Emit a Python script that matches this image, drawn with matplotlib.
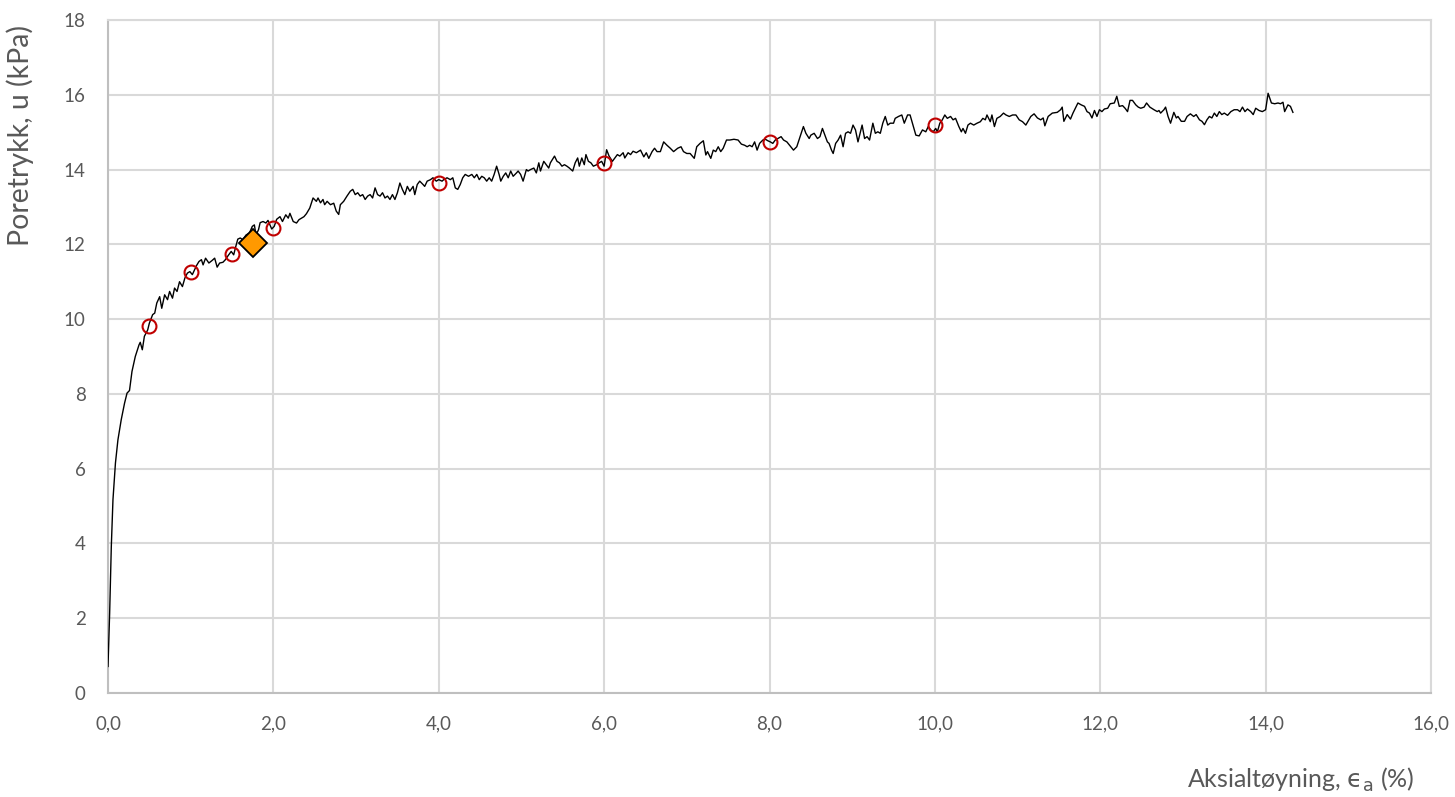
import numpy as np
import matplotlib.pyplot as plt
from matplotlib.ticker import FuncFormatter

# Måledata: aksialtøyning (%) og poretrykk (kPa)
eps = [0.0, 0.02, 0.04, 0.06, 0.09, 0.12, 0.16, 0.2, 0.23, 0.26, 0.29, 0.33, 0.375, 0.39, 0.415,
       0.44, 0.48, 0.5, 0.54, 0.565, 0.59, 0.625, 0.65, 0.685, 0.72, 0.745, 0.78, 0.805, 0.835,
       0.865, 0.9, 0.93, 0.96, 0.99, 1.02, 1.07, 1.1, 1.13, 1.15, 1.18, 1.22, 1.26, 1.29, 1.32,
       1.35, 1.39, 1.42, 1.45, 1.49, 1.52, 1.545, 1.57, 1.6, 1.63, 1.67, 1.71, 1.745, 1.77, 1.79,
       1.82, 1.84, 1.875, 1.91, 1.935, 1.98, 2.01, 2.04, 2.08, 2.11, 2.15, 2.18, 2.2, 2.24, 2.28,
       2.31, 2.34, 2.37,
       2.4, 2.44, 2.48, 2.52, 2.54, 2.57, 2.6, 2.62, 2.65, 2.69, 2.73, 2.76, 2.79, 2.81, 2.85,
       2.89, 2.93, 2.96, 2.99, 3.02, 3.05, 3.08, 3.11, 3.14, 3.17, 3.2, 3.23, 3.26, 3.29, 3.32,
       3.35, 3.38, 3.41, 3.44, 3.47, 3.5, 3.53, 3.56, 3.59, 3.62, 3.65, 3.69, 3.71, 3.74, 3.77,
       3.81, 3.83, 3.86, 3.9, 3.93, 3.97, 4.0, 4.04, 4.06, 4.1, 4.14, 4.17, 4.2, 4.23, 4.26,
       4.29, 4.32, 4.36, 4.4, 4.43, 4.46, 4.49, 4.52, 4.55, 4.58, 4.61, 4.64, 4.67, 4.7, 4.73,
       4.75, 4.78, 4.81, 4.84, 4.87, 4.9, 4.94, 4.96, 4.99, 5.02, 5.06, 5.08, 5.11, 5.15, 5.18,
       5.21, 5.23, 5.27, 5.3, 5.33, 5.35, 5.4, 5.43, 5.46, 5.49, 5.52, 5.55, 5.58, 5.62, 5.65,
       5.68, 5.7, 5.73, 5.76, 5.78, 5.81, 5.84, 5.87, 5.91, 5.94, 5.97, 6.0, 6.03, 6.06, 6.1,
       6.13, 6.16, 6.19, 6.23, 6.25, 6.29, 6.32, 6.35, 6.39,
       6.44, 6.48, 6.51, 6.54, 6.58, 6.61, 6.64, 6.68, 6.72, 6.76, 6.8, 6.84, 6.89, 6.93, 6.96,
       7.0, 7.04, 7.09, 7.12, 7.16, 7.2, 7.23, 7.25, 7.29, 7.32, 7.35, 7.38, 7.41, 7.44, 7.48,
       7.52, 7.57, 7.62, 7.66, 7.7, 7.73, 7.76, 7.79, 7.82, 7.85, 7.88, 7.92, 7.95, 7.98, 8.01,
       8.04, 8.07, 8.1, 8.14, 8.17, 8.21, 8.25, 8.29, 8.33, 8.37, 8.41, 8.44, 8.48, 8.5, 8.54,
       8.58, 8.61, 8.64, 8.67, 8.7, 8.72, 8.75, 8.77, 8.8, 8.83, 8.86, 8.89, 8.92, 8.95, 8.98,
       9.01, 9.04, 9.07, 9.09, 9.12, 9.15, 9.18, 9.21, 9.25, 9.28, 9.31, 9.34, 9.37, 9.4, 9.43,
       9.46, 9.5, 9.52, 9.56, 9.6, 9.63, 9.67, 9.7, 9.74, 9.77, 9.81, 9.85, 9.89, 9.92, 9.95,
       9.98, 10.01, 10.03, 10.06, 10.09, 10.12, 10.15, 10.19, 10.22, 10.25, 10.29, 10.32, 10.34,
       10.37, 10.4, 10.43, 10.47, 10.51, 10.55, 10.58, 10.61, 10.63, 10.67, 10.69, 10.72, 10.75,
       10.79, 10.83, 10.86, 10.9, 10.94, 10.98, 11.02, 11.06, 11.1,
       11.16, 11.2, 11.24, 11.28, 11.31, 11.33, 11.37, 11.42, 11.48, 11.52, 11.54, 11.56, 11.6,
       11.64, 11.67, 11.69, 11.73, 11.77, 11.81, 11.84, 11.87, 11.9, 11.93, 11.96, 11.99, 12.02,
       12.05, 12.09, 12.12, 12.17, 12.2, 12.23, 12.27, 12.3, 12.33, 12.36, 12.39, 12.43, 12.46,
       12.49, 12.53, 12.56, 12.6, 12.65, 12.69, 12.71, 12.73, 12.77, 12.79, 12.82, 12.85, 12.89,
       12.92, 12.94, 12.98, 13.02, 13.05, 13.09, 13.13, 13.16, 13.2, 13.23, 13.26, 13.29, 13.32,
       13.35, 13.38, 13.41, 13.44, 13.47, 13.5, 13.54, 13.58, 13.62, 13.66, 13.69, 13.72, 13.75,
       13.78, 13.82, 13.85, 13.88, 13.92, 13.96, 14.0, 14.03, 14.07, 14.11, 14.15, 14.18, 14.21,
       14.23, 14.27, 14.3, 14.33]

u = [0.71, 2.14, 3.92, 5.17, 6.15, 6.77, 7.31, 7.75, 8.02, 8.09, 8.6, 9.0, 9.31, 9.38, 9.18,
     9.54, 9.71, 9.89, 10.12, 10.16, 10.43, 10.6, 10.29, 10.65, 10.52, 10.74, 10.56, 10.83, 10.74,
     11.0, 10.87, 11.1, 11.23, 11.27, 11.19, 11.43, 11.54, 11.59, 11.45, 11.63, 11.5, 11.57, 11.63,
     11.39, 11.5, 11.52, 11.59, 11.69, 11.81, 11.72, 11.94, 12.14, 12.17, 12.12, 12.25, 12.3,
     12.48, 12.52, 12.25, 12.39, 12.58, 12.61, 12.57, 12.64, 12.41, 12.48, 12.67, 12.74, 12.61,
     12.79, 12.7, 12.83, 12.61, 12.57, 12.66, 12.7, 12.74,
     12.82, 12.97, 13.24, 13.15, 13.24, 13.11, 13.2, 13.06, 13.15, 13.06, 13.1, 12.89, 12.8, 13.06,
     13.15, 13.29, 13.42, 13.47, 13.33, 13.38, 13.29, 13.33, 13.2, 13.29, 13.33, 13.24, 13.51,
     13.33, 13.29, 13.38, 13.24, 13.29, 13.2, 13.33, 13.2, 13.38, 13.64, 13.47, 13.33, 13.55,
     13.42, 13.55, 13.33, 13.6, 13.69, 13.6, 13.55, 13.69, 13.73, 13.78, 13.69, 13.73, 13.69,
     13.73, 13.78, 13.73, 13.78, 13.51, 13.47, 13.6, 13.78, 13.87, 13.82, 13.87, 13.78, 13.87,
     13.73, 13.82, 13.78, 13.69, 13.78, 13.69, 13.87, 14.09, 13.87, 13.69, 13.82, 13.91, 13.78,
     13.96, 13.82, 13.91, 13.96, 13.87, 13.69, 14.0, 13.96, 14.0, 14.04, 13.91, 14.18, 13.96,
     14.22, 14.13, 14.04, 14.18, 14.36, 14.22, 14.18, 14.09, 14.13, 14.09, 14.04, 13.96, 14.18,
     14.31, 14.09, 14.31, 14.13, 14.4, 14.22, 14.18, 14.09, 14.13, 14.18, 14.22, 14.09, 14.53,
     14.36, 14.22, 14.31, 14.4, 14.36, 14.45, 14.31, 14.45, 14.4, 14.49, 14.45,
     14.52, 14.34, 14.45, 14.3, 14.48, 14.57, 14.48, 14.48, 14.74, 14.65, 14.57, 14.48, 14.57,
     14.61, 14.48, 14.43, 14.43, 14.3, 14.61, 14.7, 14.77, 14.39, 14.48, 14.3, 14.52, 14.48,
     14.61, 14.48, 14.57, 14.79, 14.79, 14.81, 14.79, 14.68, 14.65, 14.61, 14.65, 14.61, 14.74,
     14.52, 14.7, 14.79, 14.81, 14.77, 14.74, 14.7, 14.79, 14.83, 14.88, 14.79, 14.74, 14.63,
     14.52, 14.61, 14.88, 15.15, 14.97, 14.83, 14.92, 14.97, 14.83, 14.88, 15.1, 14.92, 14.74,
     14.7, 14.52, 14.43, 14.7, 14.79, 14.92, 14.61, 14.97, 15.01, 14.97, 15.19, 15.06, 14.74,
     14.92, 15.19, 14.83, 14.88, 14.79, 15.24, 14.97, 15.01, 14.97, 15.24, 15.42, 15.19, 15.24,
     15.24, 15.37, 15.42, 15.46, 15.24, 15.46, 15.46, 15.15, 14.92, 14.9, 15.06, 15.01, 15.15,
     15.06, 15.01, 15.1, 15.01, 15.24, 15.33, 15.46, 15.37, 15.42, 15.33, 15.37, 15.15, 15.01,
     15.1, 14.97, 15.19, 15.24, 15.19, 15.24, 15.28, 15.37, 15.33, 15.46, 15.28, 15.46, 15.15,
     15.37, 15.42, 15.51, 15.46, 15.42, 15.46, 15.46, 15.33, 15.28, 15.19,
     15.42, 15.49, 15.38, 15.33, 15.38, 15.17, 15.42, 15.51, 15.53, 15.6, 15.67, 15.29, 15.47,
     15.35, 15.51, 15.6, 15.78, 15.73, 15.69, 15.55, 15.51, 15.38, 15.58, 15.42, 15.6, 15.55,
     15.62, 15.64, 15.76, 15.78, 15.96, 15.69, 15.71, 15.64, 15.55, 15.85, 15.85, 15.73, 15.67,
     15.64, 15.67, 15.78, 15.67, 15.6, 15.55, 15.58, 15.51, 15.6, 15.67, 15.42, 15.24, 15.53,
     15.38, 15.42, 15.29, 15.29, 15.42, 15.49, 15.42, 15.47, 15.33, 15.29, 15.2, 15.33, 15.42,
     15.38, 15.51, 15.42, 15.55, 15.47, 15.51, 15.45, 15.55, 15.6, 15.6, 15.55, 15.67, 15.55,
     15.62, 15.55, 15.47, 15.64, 15.58, 15.55, 15.6, 16.04, 15.78, 15.76, 15.78, 15.76, 15.8,
     15.55, 15.73, 15.69, 15.53]

# Utvalgte punkter (røde sirkler) og markert punkt (oransje)
eps_sel = [0.5, 1.0, 1.5, 2.0, 4.0, 6.0, 8.0, 10.0]
u_sel = [9.81, 11.27, 11.75, 12.45, 13.65, 14.18, 14.75, 15.18]
eps_mark = [1.75]
u_mark = [12.03]

plt.rcParams['font.family'] = ['Lato', 'DejaVu Sans']
plt.rcParams['mathtext.fontset'] = 'custom'
plt.rcParams['mathtext.rm'] = 'DejaVu Sans'
plt.rcParams['mathtext.it'] = 'DejaVu Sans'

grid_col = '#d9d9d9'
txt_col = '#595959'

fig = plt.figure(figsize=(14.55, 7.97), dpi=100)
ax = fig.add_axes([108 / 1455, 1 - 693 / 797, (1431 - 108) / 1455, (693 - 20) / 797])

ax.plot(eps, u, color='black', linewidth=1.0, zorder=3)
ax.plot(eps_sel, u_sel, linestyle='none', marker='o', markersize=10,
        markerfacecolor='none', markeredgecolor='#c00000', markeredgewidth=1.5, zorder=4)
ax.plot(eps_mark, u_mark, linestyle='none', marker='D', markersize=14,
        markerfacecolor='#ff9900', markeredgecolor='black', markeredgewidth=1.3, zorder=5)

ax.set_xlim(0, 16)
ax.set_ylim(0, 18)
ax.set_xticks(np.arange(0, 17, 2))
ax.set_yticks(np.arange(0, 19, 2))
ax.xaxis.set_major_formatter(FuncFormatter(lambda v, p: f"{v:.1f}".replace('.', ',')))
ax.yaxis.set_major_formatter(FuncFormatter(lambda v, p: f"{v:.0f}"))
ax.tick_params(length=0, labelsize=13.5, colors=txt_col, pad=16)
ax.grid(True, color=grid_col, linewidth=1.5)
ax.set_axisbelow(True)
for s in ax.spines.values():
    s.set_color(grid_col)
    s.set_linewidth(1.5)
ax.spines['left'].set_color('#bfbfbf')
ax.spines['bottom'].set_color('#bfbfbf')

fig.text(1415 / 1455, 1 - 780 / 797, r'Aksialtøyning, $\mathrm{ϵ_a}$ (%)',
         ha='right', va='center', fontsize=18, color=txt_col)
fig.text(20 / 1455, 1 - 136 / 797, 'Poretrykk, u (kPa)', rotation=90,
         ha='center', va='center', fontsize=20.5, color=txt_col)

plt.savefig('out.png', dpi=100)
